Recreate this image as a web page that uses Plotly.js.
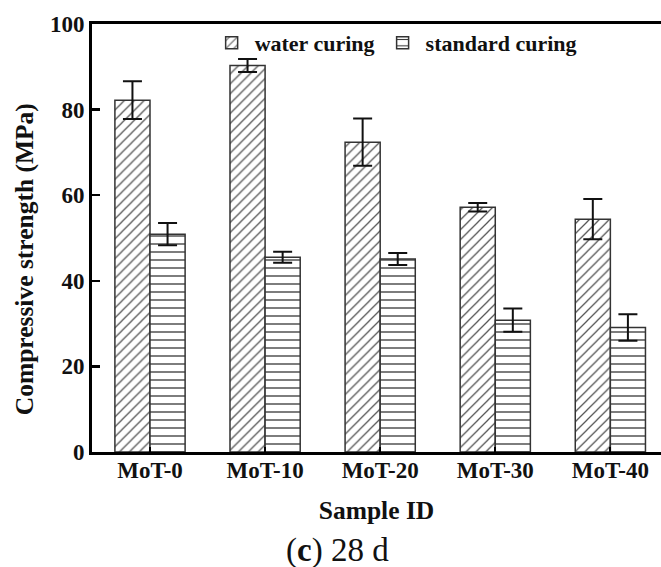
<!DOCTYPE html>
<html>
<head>
<meta charset="utf-8">
<script src="https://cdn.plot.ly/plotly-3.0.1.min.js"></script>
<style>html,body{margin:0;padding:0;background:#fff;}#chart{width:661px;height:567px;}</style>
</head>
<body>
<div id="chart"></div>
<script>
const categories = ["MoT-0", "MoT-10", "MoT-20", "MoT-30", "MoT-40"];
const waterCuring = [82.2, 90.3, 72.4, 57.2, 54.4];
const waterCuringErr = [4.4, 1.5, 5.5, 1.0, 4.7];
const standardCuring = [50.9, 45.5, 45.1, 30.8, 29.1];
const standardCuringErr = [2.6, 1.3, 1.4, 2.7, 3.1];
const yTicks = [0, 20, 40, 60, 80, 100];

const serif = "Liberation Serif, Times New Roman, serif";

const traces = [
  {
    type: "bar", name: "water curing", x: categories, y: waterCuring,
    marker: {
      color: "#ffffff",
      line: {color: "#333333", width: 1.5},
      pattern: {shape: "/", fgcolor: "#555555", bgcolor: "#ffffff", size: 7, solidity: 0.18}
    },
    error_y: {type: "data", array: waterCuringErr, visible: true, color: "#111111", thickness: 2, width: 9.5}
  },
  {
    type: "bar", name: "standard curing", x: categories, y: standardCuring,
    marker: {
      color: "#ffffff",
      line: {color: "#333333", width: 1.5},
      pattern: {shape: "-", fgcolor: "#333333", bgcolor: "#ffffff", size: 8, solidity: 0.16}
    },
    error_y: {type: "data", array: standardCuringErr, visible: true, color: "#111111", thickness: 2, width: 9.5}
  }
];

const layout = {
  width: 661, height: 567,
  margin: {l: 92, r: 0, t: 24, b: 115},
  paper_bgcolor: "#ffffff", plot_bgcolor: "#ffffff",
  barmode: "group", bargap: 0.39, bargroupgap: 0,
  font: {family: serif, color: "#111111"},
  showlegend: true,
  legend: {
    orientation: "h", x: 0.205, xanchor: "left", y: 1.005, yanchor: "top",
    bgcolor: "rgba(0,0,0,0)", traceorder: "normal", itemwidth: 36,
    font: {family: serif, size: 22, weight: "bold", color: "#111111"}
  },
  xaxis: {
    type: "category", range: [-0.504, 4.44],
    showline: true, linecolor: "#000000", linewidth: 3, mirror: true,
    ticks: "inside", ticklen: 5, tickwidth: 2, tickcolor: "#000000",
    ticklabelstandoff: -5,
    tickfont: {family: serif, size: 23, weight: "bold", color: "#111111"},
    showgrid: false, zeroline: false,
    title: {text: "Sample ID", font: {family: serif, size: 25.5, weight: "bold", color: "#111111"}, standoff: 20}
  },
  yaxis: {
    range: [0, 100], tickvals: yTicks, ticktext: yTicks.map(String),
    showline: true, linecolor: "#000000", linewidth: 3, mirror: false,
    ticks: "inside", ticklen: 8, tickwidth: 2.5, tickcolor: "#000000",
    tickfont: {family: serif, size: 23, weight: "bold", color: "#111111"},
    showgrid: false, zeroline: false
  },
  annotations: [
    {
      xref: "paper", yref: "paper", x: -0.118, y: 0.45, xanchor: "center", yanchor: "middle",
      text: "Compressive strength (MPa)", textangle: -90, showarrow: false,
      font: {family: serif, size: 25.5, weight: "bold", color: "#111111"}
    },
    {
      xref: "paper", yref: "paper", x: 0.432, y: -0.229, xanchor: "center", yanchor: "middle",
      text: "(<b>c</b>) 28 d", showarrow: false,
      font: {family: serif, size: 33, color: "#111111"}
    }
  ]
};

Plotly.newPlot("chart", traces, layout, {displayModeBar: false, staticPlot: true});
</script>
</body>
</html>
